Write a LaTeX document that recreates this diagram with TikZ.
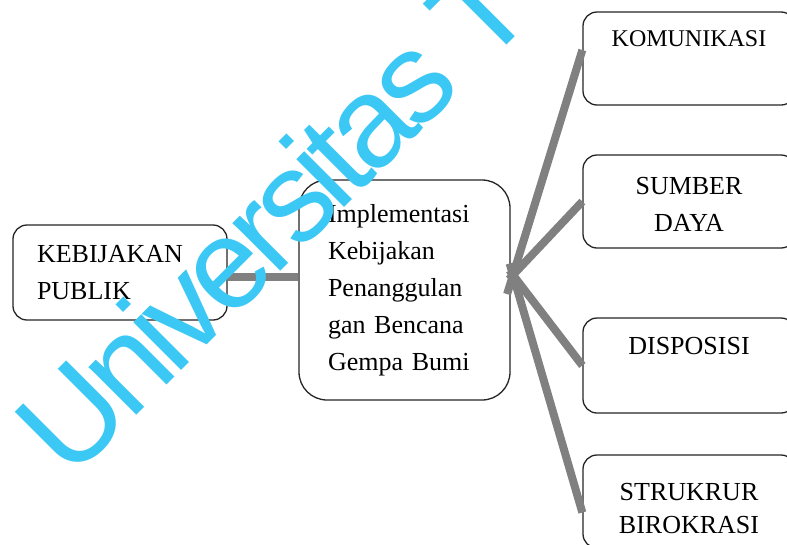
\documentclass[tikz,border=0pt]{standalone}
\usepackage{fontspec}
\setmainfont{Liberation Serif}
\newfontfamily\wmfont[LetterSpace=-6]{Liberation Sans}
\usetikzlibrary{calc}
\definecolor{wmcyan}{RGB}{60,200,245}
\begin{document}
\begin{tikzpicture}[x=1pt,y=-1pt,
  box/.style={draw=black!85, line width=1.3pt, rounded corners=14pt, inner sep=0pt},
  conn/.style={draw=black!50, line width=8pt},
  lbl/.style={font=\fontsize{26}{37}\selectfont, align=center, inner sep=0pt},
]
\useasboundingbox (0,0) rectangle (787,544);
\clip (0,0) rectangle (787,544);
\fill[white] (0,0) rectangle (787,544);
% boxes
\node[box, minimum width=214pt, minimum height=95pt, inner xsep=24pt, text width=166pt, align=left,
      font=\fontsize{26}{37}\selectfont] (lp) at (120,272.5) {KEBIJAKAN\\PUBLIK};
\node[box, rounded corners=28pt, minimum width=211pt, minimum height=220pt, inner xsep=29pt, text width=153pt, align=left,
      font=\fontsize{26}{37}\selectfont] (cb) at (404.5,290) {Implementasi\\Kebijakan\\Penanggulan\\gan Bencana\\Gempa Bumi};
\node[box, minimum width=212pt, minimum height=93pt] (kom) at (689,58.5) {};
\node[box, minimum width=212pt, minimum height=93pt] (sum) at (689,201.5) {};
\node[box, minimum width=212pt, minimum height=95pt] (dis) at (689,365.5) {};
\node[box, minimum width=212pt, minimum height=93pt] (str) at (689,501.5) {};
% texts in right boxes
\node[lbl, font=\fontsize{24}{30}\selectfont, anchor=base] (tkom) at ($(kom.north)+(0,35)$) {KOMUNIKASI};
\node[lbl] (tsum) at (689,204.5) {SUMBER\\DAYA};
\node[lbl, anchor=base] (tdis) at ($(dis.north)+(0,37)$) {DISPOSISI};
\node[lbl, font=\fontsize{26}{33}\selectfont] (tstr) at (689,509) {STRUKRUR\\BIROKRASI};
% connectors
\coordinate (hub) at (513,275);
\coordinate (ekom) at ([yshift=8.5pt]kom.west);
\coordinate (estr) at ([yshift=-11pt]str.west);
\draw[conn] ([yshift=-4.5pt]lp.east) -- ([yshift=-4.5pt]lp.east -| cb.west);
\draw[conn] ($(hub)!-20pt!(ekom)$) -- (ekom);
\draw[conn] ($(hub)!-6pt!(sum.west)$) -- (sum.west);
\draw[conn] ($(hub)!-6pt!(dis.west)$) -- (dis.west);
\draw[conn] ($(hub)!-12pt!(estr)$) -- (estr);
% watermark
\node[font=\wmfont\fontsize{128}{128}\selectfont, text=wmcyan, rotate=45, anchor=base west, inner sep=0pt] (wm) at (70,482) {Universitas T};
\end{tikzpicture}
\end{document}
